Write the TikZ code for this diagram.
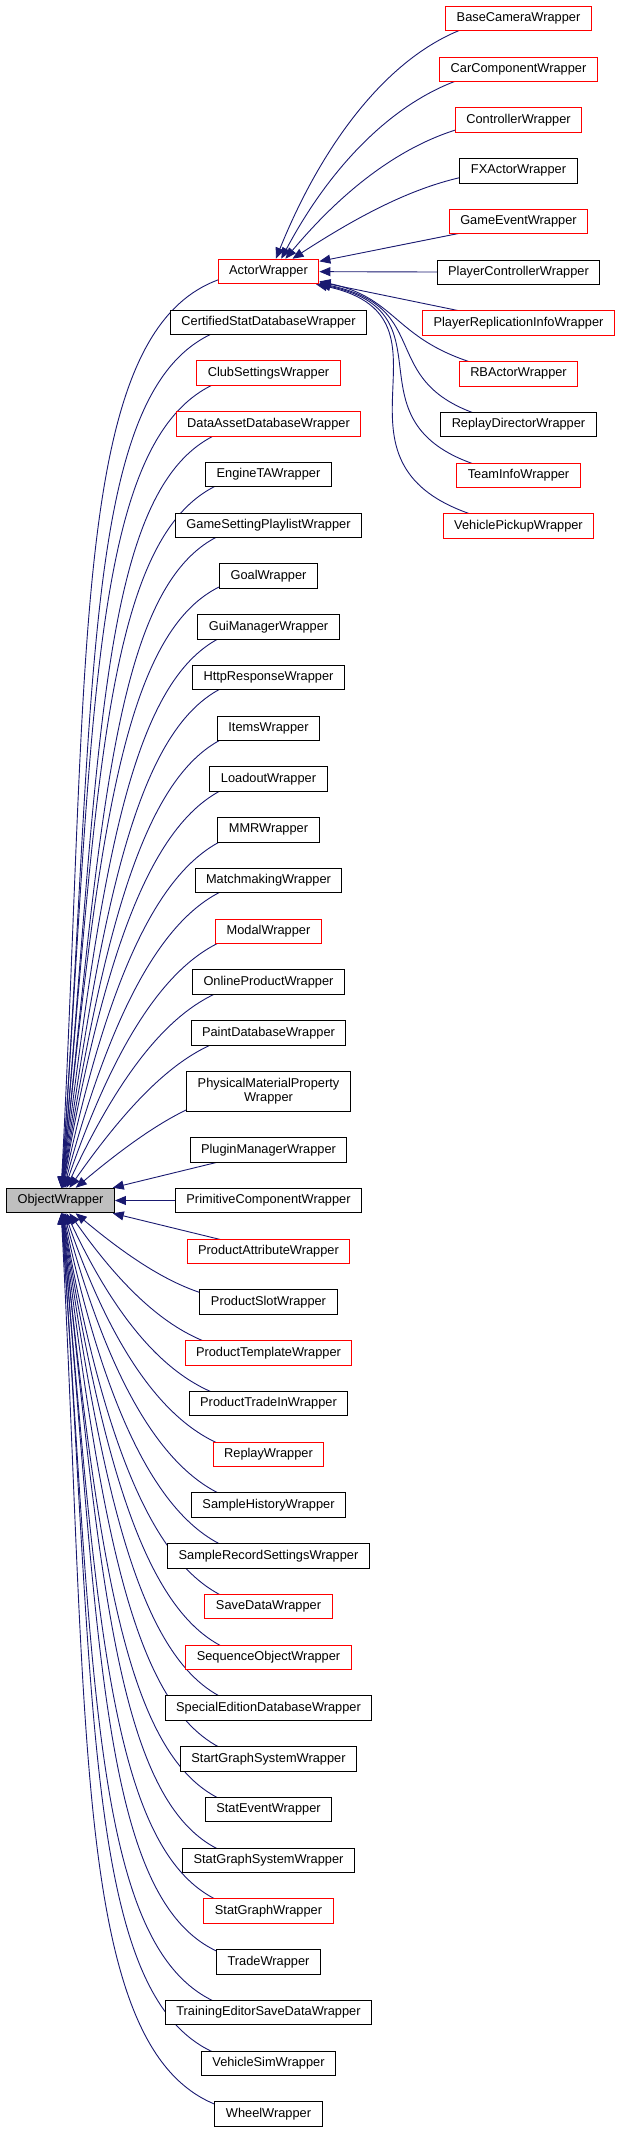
\documentclass[tikz,border=0pt]{standalone}
\usepackage{fontspec}
\setmainfont{Liberation Sans}
\usepackage{tikz}
\usetikzlibrary{arrows.meta, positioning, backgrounds}
\definecolor{edgeblue}{HTML}{191970}
\definecolor{rootgray}{HTML}{BFBFBF}
\tikzset{
  classbox/.style={rectangle, draw=black, fill=white, line width=1pt, align=center,
                   font=\fontsize{12.8}{14}\selectfont, inner xsep=11pt, inner ysep=2pt,
                   minimum height=24.5pt},
  redbox/.style={classbox, draw=red},
  rootbox/.style={classbox, fill=rootgray},
  inh/.style={draw=edgeblue, line width=0.9pt, -{Triangle[length=11pt, width=9pt]}},
  fan/.style={out=180, out looseness=0.55, in looseness=1.6},
}

\begin{document}
\begin{tikzpicture}[x=1pt, y=1pt, node distance=25.25pt]
\useasboundingbox (0,0) rectangle (617,-2131);

% middle column
\node[redbox] (actor) at (268.5,-271.5) {ActorWrapper};
\node[classbox, below=of actor] (certstat) {CertifiedStatDatabaseWrapper};
\node[redbox, below=of certstat] (clubset) {ClubSettingsWrapper};
\node[redbox, below=of clubset] (dataasset) {DataAssetDatabaseWrapper};
\node[classbox, below=of dataasset] (engineta) {EngineTAWrapper};
\node[classbox, below=of engineta] (gameplaylist) {GameSettingPlaylistWrapper};
\node[classbox, below=of gameplaylist] (goal) {GoalWrapper};
\node[classbox, below=of goal] (guimgr) {GuiManagerWrapper};
\node[classbox, below=of guimgr] (httpresp) {HttpResponseWrapper};
\node[classbox, below=of httpresp] (items) {ItemsWrapper};
\node[classbox, below=of items] (loadout) {LoadoutWrapper};
\node[classbox, below=of loadout] (mmr) {MMRWrapper};
\node[classbox, below=of mmr] (matchmaking) {MatchmakingWrapper};
\node[redbox, below=of matchmaking] (modal) {ModalWrapper};
\node[classbox, below=of modal] (onlineprod) {OnlineProductWrapper};
\node[classbox, below=of onlineprod] (paintdb) {PaintDatabaseWrapper};
\node[classbox, minimum height=40pt, below=of paintdb] (physmat) {PhysicalMaterialProperty\\Wrapper};
\node[classbox, below=of physmat] (pluginmgr) {PluginManagerWrapper};
\node[classbox, below=of pluginmgr] (primcomp) {PrimitiveComponentWrapper};
\node[redbox, below=of primcomp] (prodattr) {ProductAttributeWrapper};
\node[classbox, below=of prodattr] (prodslot) {ProductSlotWrapper};
\node[redbox, below=of prodslot] (prodtmpl) {ProductTemplateWrapper};
\node[classbox, below=of prodtmpl] (prodtrade) {ProductTradeInWrapper};
\node[redbox, below=of prodtrade] (replay) {ReplayWrapper};
\node[classbox, below=of replay] (samplehist) {SampleHistoryWrapper};
\node[classbox, below=of samplehist] (samplerec) {SampleRecordSettingsWrapper};
\node[redbox, below=of samplerec] (savedata) {SaveDataWrapper};
\node[redbox, below=of savedata] (seqobj) {SequenceObjectWrapper};
\node[classbox, below=of seqobj] (specialed) {SpecialEditionDatabaseWrapper};
\node[classbox, below=of specialed] (startgraph) {StartGraphSystemWrapper};
\node[classbox, below=of startgraph] (statevent) {StatEventWrapper};
\node[classbox, below=of statevent] (statgraphsys) {StatGraphSystemWrapper};
\node[redbox, below=of statgraphsys] (statgraph) {StatGraphWrapper};
\node[classbox, below=of statgraph] (trade) {TradeWrapper};
\node[classbox, below=of trade] (trainsave) {TrainingEditorSaveDataWrapper};
\node[classbox, below=of trainsave] (vehsim) {VehicleSimWrapper};
\node[classbox, below=of vehsim] (wheel) {WheelWrapper};

% base class
\node[rootbox, left=60pt of primcomp] (objw) {ObjectWrapper};

% right column
\node[redbox] (basecam) at (518.5,-18.5) {BaseCameraWrapper};
\node[redbox, below=of basecam] (carcomp) {CarComponentWrapper};
\node[redbox, below=of carcomp] (controller) {ControllerWrapper};
\node[classbox, below=of controller] (fxactor) {FXActorWrapper};
\node[redbox, below=of fxactor] (gameevent) {GameEventWrapper};
\node[classbox, below=of gameevent] (playerctrl) {PlayerControllerWrapper};
\node[redbox, below=of playerctrl] (playerrep) {PlayerReplicationInfoWrapper};
\node[redbox, below=of playerrep] (rbactor) {RBActorWrapper};
\node[classbox, below=of rbactor] (replaydir) {ReplayDirectorWrapper};
\node[redbox, below=of replaydir] (teaminfo) {TeamInfoWrapper};
\node[redbox, below=of teaminfo] (vehpickup) {VehiclePickupWrapper};

\begin{scope}[on background layer]
% children of ObjectWrapper, upper half
\draw[inh] (actor.center) to[fan, in=87] (objw);
\draw[inh] (certstat.center) to[fan, in=86] (objw);
\draw[inh] (clubset.center) to[fan, in=86] (objw);
\draw[inh] (dataasset.center) to[fan, in=85] (objw);
\draw[inh] (engineta.center) to[fan, in=85] (objw);
\draw[inh] (gameplaylist.center) to[fan, in=84] (objw);
\draw[inh] (goal.center) to[fan, in=84] (objw);
\draw[inh] (guimgr.center) to[fan, in=83] (objw);
\draw[inh] (httpresp.center) to[fan, in=82] (objw);
\draw[inh] (items.center) to[fan, in=81] (objw);
\draw[inh] (loadout.center) to[fan, in=80] (objw);
\draw[inh] (mmr.center) to[fan, in=78] (objw);
\draw[inh] (matchmaking.center) to[fan, in=75] (objw);
\draw[inh] (modal.center) to[fan, in=71] (objw);
\draw[inh] (onlineprod.center) to[fan, in=65] (objw);
\draw[inh] (paintdb.center) to[fan, in=55] (objw);
\draw[inh] (physmat.center) to[fan, in=40] (objw);
\draw[inh] (pluginmgr.center) -- (objw);
\draw[inh] (primcomp.center) -- (objw);
% lower half
\draw[inh] (prodattr.center) -- (objw);
\draw[inh] (prodslot.center) to[fan, in=-40] (objw);
\draw[inh] (prodtmpl.center) to[fan, in=-55] (objw);
\draw[inh] (prodtrade.center) to[fan, in=-65] (objw);
\draw[inh] (replay.center) to[fan, in=-71] (objw);
\draw[inh] (samplehist.center) to[fan, in=-75] (objw);
\draw[inh] (samplerec.center) to[fan, in=-78] (objw);
\draw[inh] (savedata.center) to[fan, in=-80] (objw);
\draw[inh] (seqobj.center) to[fan, in=-81] (objw);
\draw[inh] (specialed.center) to[fan, in=-82] (objw);
\draw[inh] (startgraph.center) to[fan, in=-83] (objw);
\draw[inh] (statevent.center) to[fan, in=-84] (objw);
\draw[inh] (statgraphsys.center) to[fan, in=-84] (objw);
\draw[inh] (statgraph.center) to[fan, in=-85] (objw);
\draw[inh] (trade.center) to[fan, in=-85] (objw);
\draw[inh] (trainsave.center) to[fan, in=-86] (objw);
\draw[inh] (vehsim.center) to[fan, in=-86] (objw);
\draw[inh] (wheel.center) to[fan, in=-87] (objw);

% children of ActorWrapper
\draw[inh] (basecam.center) to[out=180, in=68, out distance=100pt, in distance=150pt] (actor.60);
\draw[inh] (carcomp.center) to[out=180, in=62, out distance=89pt, in distance=133pt] (actor.45);
\draw[inh] (controller.center) to[out=180, in=50, out distance=79pt, in distance=119pt] (actor.37);
\draw[inh] (fxactor.center) to[out=180, in=33, out distance=71pt, in distance=106pt] (actor.28);
\draw[inh] (gameevent.center) -- (actor);
\draw[inh] (playerctrl.center) -- (actor);
\draw[inh] (playerrep.center) -- (actor);
\draw[inh] (rbactor.center) to[out=170, in=-12, out distance=130pt, in distance=90pt] (actor.-11);
\draw[inh] (replaydir.center) to[out=170, in=-12, out distance=160pt, in distance=130pt] (actor.-13);
\draw[inh] (teaminfo.center) to[out=170, in=-12, out distance=200pt, in distance=150pt] (actor.-14);
\draw[inh] (vehpickup.center) to[out=170, in=-12, out distance=240pt, in distance=170pt] (actor.-15);
\end{scope}
\end{tikzpicture}
\end{document}
